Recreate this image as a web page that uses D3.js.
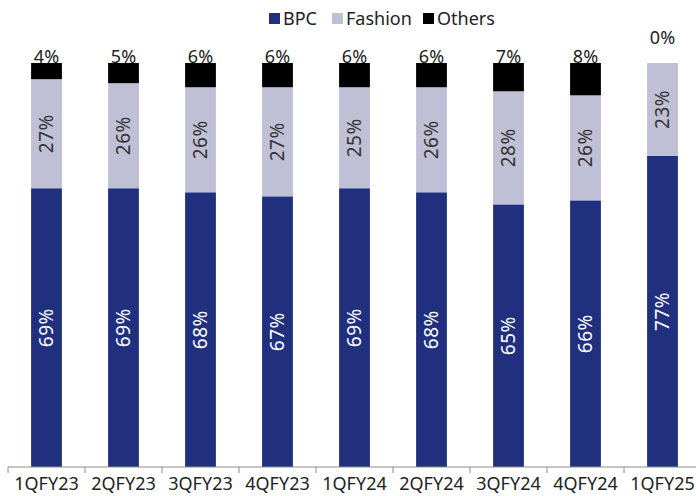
<!DOCTYPE html>
<html>
<head>
<meta charset="utf-8">
<script src="https://cdn.jsdelivr.net/npm/d3@7"></script>
<style>
  body { margin: 0; background: #fff; }
  svg { display: block; font-family: "Noto Sans", sans-serif; }
</style>
</head>
<body>
<script>
// chart data
const quarters = ["1QFY23", "2QFY23", "3QFY23", "4QFY23", "1QFY24", "2QFY24", "3QFY24", "4QFY24", "1QFY25"];
const bpc = [69, 69, 68, 67, 69, 68, 65, 66, 77];
const fashion = [27, 26, 26, 27, 25, 26, 28, 26, 23];
const others = [4, 5, 6, 6, 6, 6, 7, 8, 0];
const seriesNames = ["BPC", "Fashion", "Others"];
const colors = ["#21307e", "#bfbfd6", "#000000"];

const W = 696, H = 496;
const svg = d3.select("body").append("svg")
    .attr("width", W)
    .attr("height", H);

const rows = quarters.map((q, i) => ({ q: q, BPC: bpc[i], Fashion: fashion[i], Others: others[i] }));
const stacked = d3.stack().keys(seriesNames)(rows);

const x = d3.scaleBand()
    .domain(quarters)
    .range([8, 701])
    .paddingInner(0.6)
    .paddingOuter(0.3);

const y = d3.scaleLinear()
    .domain([0, 100])
    .range([467, 63]);

// bars
const layers = svg.selectAll("g.layer")
    .data(stacked)
    .join("g")
    .attr("class", "layer")
    .attr("fill", (d, i) => colors[i]);

layers.selectAll("rect")
    .data(d => d)
    .join("rect")
    .attr("x", d => x(d.data.q))
    .attr("width", x.bandwidth())
    .attr("y", d => y(d[1]))
    .attr("height", d => y(d[0]) - y(d[1]));

// rotated labels for BPC and Fashion
stacked.slice(0, 2).forEach((layer, li) => {
    svg.append("g")
        .selectAll("text")
        .data(layer)
        .join("text")
        .attr("transform", d => {
            const cx = x(d.data.q) + x.bandwidth() / 2;
            const cy = (y(d[0]) + y(d[1])) / 2;
            return `translate(${cx},${cy}) rotate(-90)`;
        })
        .attr("text-anchor", "middle")
        .attr("dy", "0.35em")
        .attr("font-size", 19)
        .attr("letter-spacing", 0.5)
        .attr("fill", li === 0 ? "#ffffff" : "#333333")
        .text(d => (d[1] - d[0]) + "%");
});

// Others labels above the bars
svg.append("g")
    .selectAll("text")
    .data(stacked[2])
    .join("text")
    .attr("x", d => x(d.data.q) + x.bandwidth() / 2)
    .attr("y", d => (d[1] - d[0]) > 0 ? y(d[1]) + 0 : y(d[1]) - 19)
    .attr("text-anchor", "middle")
    .attr("font-size", 18)
    .attr("fill", "#222")
    .text(d => (d[1] - d[0]) + "%");

// x axis
const axisY = 467;
const xAxis = svg.append("g")
    .attr("transform", `translate(0,${axisY})`)
    .call(d3.axisBottom(x).tickSize(0).tickPadding(10));
xAxis.select(".domain").attr("stroke", "#8c8c8c").attr("d", `M8,0H${W}`);
xAxis.selectAll("text")
    .attr("font-size", 18)
    .attr("font-family", "Noto Sans, sans-serif")
    .attr("fill", "#222");

// category boundary ticks
const step = x.step();
const start = x.range()[0];
xAxis.append("g")
    .selectAll("line")
    .data(d3.range(quarters.length + 1))
    .join("line")
    .attr("x1", i => start + i * step)
    .attr("x2", i => start + i * step)
    .attr("y1", 0)
    .attr("y2", 6)
    .attr("stroke", "#8c8c8c");

// legend
const legendX = [269, 332, 423];
const legend = svg.append("g");
seriesNames.forEach((name, i) => {
    legend.append("rect")
        .attr("x", legendX[i])
        .attr("y", 13)
        .attr("width", 11)
        .attr("height", 11)
        .attr("fill", colors[i]);
    legend.append("text")
        .attr("x", legendX[i] + 14)
        .attr("y", 25)
        .attr("font-size", 18)
        .attr("fill", "#222")
        .text(name);
});
</script>
</body>
</html>
